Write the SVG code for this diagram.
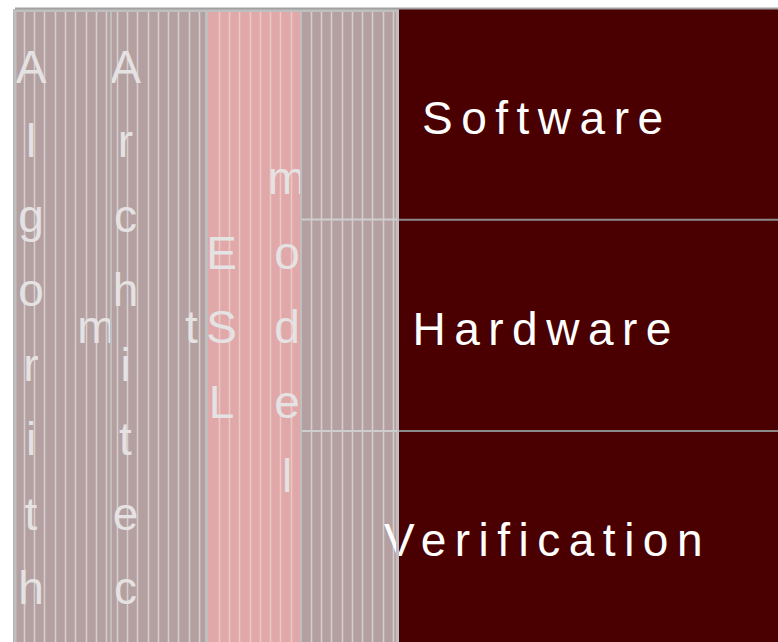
<svg xmlns="http://www.w3.org/2000/svg" width="778" height="642" viewBox="0 0 778 642">
  <style>
    .mauve { fill: #b4a0a1; }
    .pink { fill: #e0a8a8; }
    .dark { fill: #4a0000; }
    .stripe-m { stroke: #d6cdcd; stroke-width: 1.6; fill: none; }
    .stripe-p { stroke: #edc6c6; stroke-width: 1.6; fill: none; }
    .edge { stroke: #bfbfbf; fill: none; }
    .rule { stroke: #8a8a8a; stroke-width: 2; fill: none; }
    .vtext { font-family: "Liberation Sans", Arial, sans-serif; font-size: 46px; fill: #e4e2e2; text-anchor: middle; }
    .label { font-family: "Liberation Sans", Arial, sans-serif; font-size: 46px; fill: #ffffff; letter-spacing: 8.5px; }
  </style>

  <!-- Algorithm column -->
  <g id="algorithm">
    <rect class="mauve" x="13" y="9" width="98" height="633"/>
    <path class="stripe-m" d="M24.5 12V642M34.5 12V642M44.5 12V642M55.5 12V642M65.5 12V642M75.5 12V642M86.5 12V642M96.5 12V642M106.5 12V642"/>
    <text class="vtext"><tspan x="31" y="82.6">A</tspan><tspan x="31" y="157.1">l</tspan><tspan x="31" y="231.6">g</tspan><tspan x="31" y="306.1">o</tspan><tspan x="31" y="380.6">r</tspan><tspan x="31" y="455.1">i</tspan><tspan x="31" y="529.6">t</tspan><tspan x="31" y="604.1">h</tspan><tspan x="96.5" y="343.3">m</tspan></text>
  </g>

  <!-- Architecture column -->
  <g id="architect">
    <rect class="mauve" x="111" y="9" width="97" height="633"/>
    <path class="stripe-m" d="M117.5 12V642M127.5 12V642M137.5 12V642M148.5 12V642M158.5 12V642M168.5 12V642M178.5 12V642M189.5 12V642M199.5 12V642"/>
    <text class="vtext"><tspan x="125.5" y="82.6">A</tspan><tspan x="125.5" y="157.1">r</tspan><tspan x="125.5" y="231.6">c</tspan><tspan x="125.5" y="306.1">h</tspan><tspan x="125.5" y="380.6">i</tspan><tspan x="125.5" y="455.1">t</tspan><tspan x="125.5" y="529.6">e</tspan><tspan x="125.5" y="604.1">c</tspan><tspan x="191.5" y="343.3">t</tspan></text>
  </g>

  <!-- ESL model column -->
  <g id="esl-model">
    <rect class="pink" x="208" y="9" width="93" height="633"/>
    <path class="stripe-p" d="M219.5 12V642M229.5 12V642M239.5 12V642M250.5 12V642M260.5 12V642M270.5 12V642M280.5 12V642M291.5 12V642"/>
    <text class="vtext"><tspan x="221.5" y="268.8">E</tspan><tspan x="221.5" y="343.3">S</tspan><tspan x="221.5" y="417.8">L</tspan><tspan x="287" y="194.3">m</tspan><tspan x="287" y="268.8">o</tspan><tspan x="287" y="343.3">d</tspan><tspan x="287" y="417.8">e</tspan><tspan x="287" y="492.3">l</tspan></text>
  </g>

  <!-- Row cells: striped lead cell plus dark label area -->
  <g id="software">
    <rect class="mauve" x="301" y="9" width="98" height="211"/>
    <path class="stripe-m" d="M311.5 12V220M321.5 12V220M331.5 12V220M342.5 12V220M352.5 12V220M362.5 12V220M372.5 12V220M383.5 12V220M393.5 12V220"/>
    <rect class="dark" x="399" y="9" width="379" height="211"/>
    <text class="label" x="422" y="133.5">Software</text>
  </g>

  <g id="hardware">
    <rect class="mauve" x="301" y="220" width="98" height="211"/>
    <path class="stripe-m" d="M311.5 220V431M321.5 220V431M331.5 220V431M342.5 220V431M352.5 220V431M362.5 220V431M372.5 220V431M383.5 220V431M393.5 220V431"/>
    <rect class="dark" x="399" y="220" width="379" height="211"/>
    <text class="label" x="412.5" y="345">Hardware</text>
  </g>

  <g id="verification">
    <rect class="mauve" x="301" y="431" width="98" height="211"/>
    <path class="stripe-m" d="M311.5 431V642M321.5 431V642M331.5 431V642M342.5 431V642M352.5 431V642M362.5 431V642M372.5 431V642M383.5 431V642M393.5 431V642"/>
    <rect class="dark" x="399" y="431" width="379" height="211"/>
    <text class="label" x="384" y="555.5">Verification</text>
  </g>

  <!-- Cell borders and row dividers -->
  <g id="connectors">
    <path class="edge" stroke-width="3" d="M15 10V642M206.5 10V642M397.5 10V642M13 10.5H399"/>
    <path class="edge" stroke-width="2" d="M111 10V642M301 10V642"/>
    <path stroke="#cdcdcd" stroke-width="2" fill="none" d="M302 219.5H397M302 431H397"/>
    <path class="rule" d="M399 219.8H778M399 431H778"/>
    <path stroke="#a0a0a0" stroke-width="2" fill="none" d="M15 8.5H778"/>
  </g>
</svg>
